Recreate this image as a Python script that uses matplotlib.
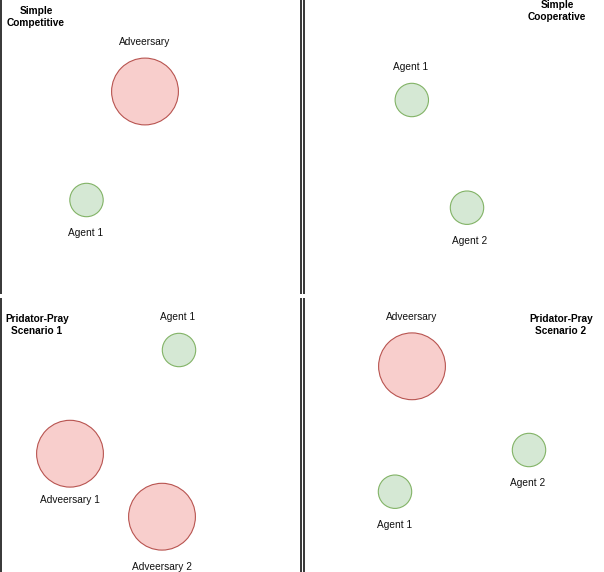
import matplotlib
matplotlib.use("Agg")
import matplotlib.pyplot as plt
from matplotlib.patches import Circle

plt.rcParams['font.family'] = ['Liberation Sans', 'DejaVu Sans']

# Panel titles (text, x, y of centre, in pixel units of the diagram)
titles = ["Simple\nCompetitive", "Simple\nCooperative",
          "Pridator-Pray\nScenario 1", "Pridator-Pray\nScenario 2"]
title_x = [36, 557, 37, 561]
title_y = [17, 11, 325, 325]

# Entities
ent_kind = ["adv", "agent",
            "agent", "agent",
            "agent", "adv", "adv",
            "adv", "agent", "agent"]
ent_x = [145, 86.5,
         411.8, 467,
         179, 70, 162,
         412, 529, 395]
ent_y = [91.5, 200,
         100, 207.7,
         350, 453.7, 516.7,
         366.3, 450, 491.7]
labels = ["Adveersary", "Agent 1",
          "Agent 1", "Agent 2",
          "Agent 1", "Adveersary 1", "Adveersary 2",
          "Adveersary", "Agent 2", "Agent 1"]
label_x = [145, 86,
           411, 470,
           178, 70, 162,
           412, 528, 395]
label_y = [42, 233,
           67, 241,
           317, 500, 567,
           317, 483.5, 525.5]

radius = {"adv": 33.4, "agent": 16.7}
face = {"adv": "#f8cecc", "agent": "#d5e8d4"}
edge = {"adv": "#b85450", "agent": "#82b366"}

W, H = 604, 572
fig = plt.figure(figsize=(W / 100, H / 100), dpi=100)
ax = fig.add_axes([0, 0, 1, 1])
ax.set_xlim(0, W)
ax.set_ylim(H, 0)
ax.set_aspect('equal')
ax.axis('off')

# separator lines
for xs in [0.7, 300.5, 303.6]:
    ax.plot([xs, xs], [0, 294.3], color='black', lw=1.1, solid_capstyle='butt')
    ax.plot([xs, xs], [298, H], color='black', lw=1.1, solid_capstyle='butt')

for k, x, y in zip(ent_kind, ent_x, ent_y):
    ax.add_patch(Circle((x, y), radius[k], facecolor=face[k], edgecolor=edge[k], lw=0.8))

for t, x, y in zip(labels, label_x, label_y):
    ax.text(x, y, t, ha='center', va='center', fontsize=7.3, color='#111111')

for t, x, y in zip(titles, title_x, title_y):
    ax.text(x, y, t, ha='center', va='center', fontsize=7.3, fontweight='bold',
            color='black', linespacing=1.15)

fig.savefig("out.png", dpi=100)
